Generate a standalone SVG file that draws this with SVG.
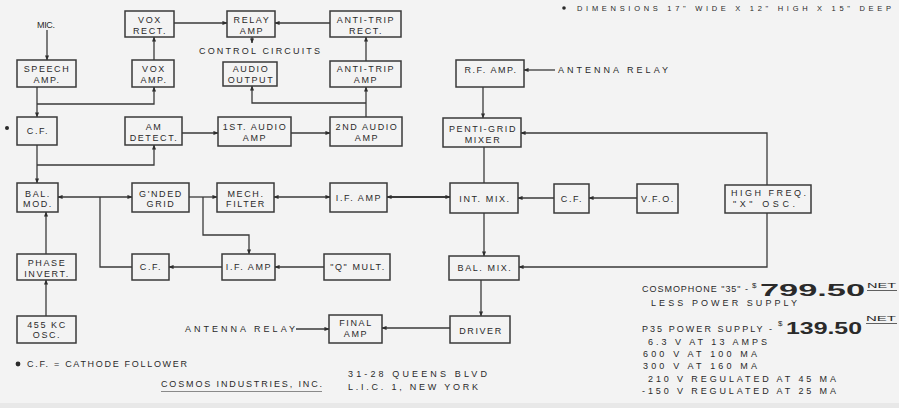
<svg xmlns="http://www.w3.org/2000/svg" width="899" height="408" viewBox="0 0 899 408">
<defs>
<marker id="ah" viewBox="0 0 6 6" refX="5.5" refY="3" markerWidth="5" markerHeight="5" markerUnits="userSpaceOnUse" orient="auto-start-reverse"><path d="M0,0.5 L6,3 L0,5.5 z" fill="#2e2e2e"/></marker>
</defs>
<style>
.bx rect{fill:none;stroke:#3a3a3a;stroke-width:1.5}
.t{font-family:"Liberation Sans",Arial,sans-serif;font-size:9px;letter-spacing:1.6px;fill:#2a2a2a;text-anchor:middle}
.l{font-family:"Liberation Sans",Arial,sans-serif;font-size:9px;fill:#2a2a2a}
.c path{fill:none;stroke:#3a3a3a;stroke-width:1.3}
.c .a{marker-end:url(#ah)}
.c .b{marker-start:url(#ah);marker-end:url(#ah)}
.big{font-family:"Liberation Sans",Arial,sans-serif;font-weight:bold;font-size:17px;fill:#2a2a2a}
.net{font-family:"Liberation Sans",Arial,sans-serif;font-size:7.5px;fill:#2a2a2a}
</style>
<rect width="899" height="408" fill="#f3f3f3"/>
<rect x="0" y="403" width="899" height="5" fill="#e8e8e8"/>

<g class="c" id="connectors">
<path class="a" d="M47,30 V60"/>
<path class="a" d="M37,87 V117"/>
<path class="a" d="M37,104 H154 V87"/>
<path class="a" d="M154,60 V37"/>
<path class="a" d="M174,23 H227"/>
<path class="a" d="M330,23 H275"/>
<path class="a" d="M252,37 V43"/>
<path class="a" d="M366,61 V37"/>
<path class="a" d="M366,117 V87"/>
<path class="a" d="M366,103 H252 V86"/>
<path class="a" d="M37,145 V183"/>
<path class="a" d="M37,165 H154 V145"/>
<path class="a" d="M182,133 H218"/>
<path class="a" d="M291,133 H330"/>
<path class="b" d="M58,197 H132"/>
<path d="M100,197 V267 H132"/>
<path class="a" d="M189,197 H217"/>
<path class="a" d="M203,197 V235 H249 V254"/>
<path class="b" d="M330,197 H274"/>
<path class="b" d="M387,197 H450" style="stroke-width:2"/>
<path d="M484,147 V183"/>
<path class="a" d="M483,87 V118"/>
<path class="a" d="M555,70 H524"/>
<path class="a" d="M767,185 V133 H521"/>
<path class="a" d="M767,213 V267 H519"/>
<path class="a" d="M484,213 V256"/>
<path class="a" d="M554,198 H518"/>
<path class="a" d="M637,198 H589"/>
<path class="a" d="M324,267 H275"/>
<path class="a" d="M222,267 H169"/>
<path class="a" d="M46,254 V212"/>
<path class="a" d="M46,316 V280"/>
<path class="a" d="M481,280 V316"/>
<path class="a" d="M450,328 H382"/>
<path class="a" d="M296,329 H329"/>
</g>

<g class="bx">
<g id="vox-rect"><rect x="125" y="11" width="49" height="26"/><text class="t" x="150" y="23">VOX</text><text class="t" x="150" y="33.5">RECT.</text></g>
<g id="relay-amp"><rect x="227" y="11" width="48" height="26"/><text class="t" x="252" y="23">RELAY</text><text class="t" x="252" y="33.5">AMP</text></g>
<g id="antitrip-rect"><rect x="330" y="11" width="71" height="26"/><text class="t" x="366" y="23">ANTI-TRIP</text><text class="t" x="366" y="33.5">RECT.</text></g>
<g id="speech-amp"><rect x="17" y="60" width="59" height="27"/><text class="t" x="47" y="72">SPEECH</text><text class="t" x="47" y="83">AMP.</text></g>
<g id="vox-amp"><rect x="132" y="60" width="42" height="27"/><text class="t" x="154" y="72">VOX</text><text class="t" x="154" y="83">AMP.</text></g>
<g id="audio-output"><rect x="223" y="62" width="54" height="24"/><text class="t" x="251" y="71.5">AUDIO</text><text class="t" x="251" y="82.5">OUTPUT</text></g>
<g id="antitrip-amp"><rect x="330" y="61" width="71" height="26"/><text class="t" x="366" y="71.5">ANTI-TRIP</text><text class="t" x="366" y="82.5">AMP</text></g>
<g id="rf-amp"><rect x="456" y="60" width="68" height="27"/><text class="t" x="491" y="73">R.F. AMP.</text></g>
<g id="cf1"><rect x="17" y="117" width="40" height="28"/><text class="t" x="38" y="134">C.F.</text></g>
<g id="am-detect"><rect x="125" y="117" width="57" height="28"/><text class="t" x="154" y="130">AM</text><text class="t" x="154" y="140.5">DETECT.</text></g>
<g id="audio1"><rect x="218" y="117" width="73" height="29"/><text class="t" x="255" y="130">1ST. AUDIO</text><text class="t" x="255" y="141">AMP</text></g>
<g id="audio2"><rect x="330" y="117" width="72" height="29"/><text class="t" x="367" y="130">2ND AUDIO</text><text class="t" x="367" y="141">AMP</text></g>
<g id="pentigrid"><rect x="443" y="118" width="78" height="29"/><text class="t" x="483" y="131.5">PENTI-GRID</text><text class="t" x="483" y="142.5">MIXER</text></g>
<g id="bal-mod"><rect x="17" y="183" width="41" height="29"/><text class="t" x="38" y="196.5">BAL.</text><text class="t" x="38" y="207">MOD.</text></g>
<g id="gnded-grid"><rect x="132" y="183" width="57" height="29"/><text class="t" x="161" y="196.5">G'NDED</text><text class="t" x="161" y="207">GRID</text></g>
<g id="mech-filter"><rect x="217" y="183" width="57" height="29"/><text class="t" x="246" y="196.5">MECH.</text><text class="t" x="246" y="207">FILTER</text></g>
<g id="if-amp1"><rect x="330" y="183" width="57" height="29"/><text class="t" x="359" y="201">I.F.  AMP</text></g>
<g id="int-mix"><rect x="450" y="183" width="68" height="30"/><text class="t" x="485" y="202">INT. MIX.</text></g>
<g id="cf2"><rect x="554" y="184" width="35" height="29"/><text class="t" x="572" y="202">C.F.</text></g>
<g id="vfo"><rect x="637" y="184" width="41" height="29"/><text class="t" x="658" y="202">V.F.O.</text></g>
<g id="hf-osc"><rect x="725" y="185" width="86" height="28"/><text class="l" x="731" y="196" textLength="75">HIGH FREQ.</text><text class="l" x="733" y="207" textLength="62">"X" OSC.</text></g>
<g id="cf3"><rect x="132" y="254" width="37" height="26"/><text class="t" x="151" y="270">C.F.</text></g>
<g id="if-amp2"><rect x="222" y="254" width="53" height="26"/><text class="t" x="249" y="270">I.F. AMP</text></g>
<g id="q-mult"><rect x="324" y="254" width="66" height="26"/><text class="t" x="358" y="270">"Q" MULT.</text></g>
<g id="bal-mix"><rect x="449" y="256" width="70" height="24"/><text class="t" x="485" y="271">BAL. MIX.</text></g>
<g id="phase-invert"><rect x="17" y="254" width="59" height="26"/><text class="t" x="47" y="266">PHASE</text><text class="t" x="47" y="276.5">INVERT.</text></g>
<g id="osc455"><rect x="17" y="316" width="59" height="27"/><text class="t" x="47" y="327.5">455 KC</text><text class="t" x="47" y="338">OSC.</text></g>
<g id="final-amp"><rect x="329" y="315" width="53" height="28"/><text class="t" x="356" y="326">FINAL</text><text class="t" x="356" y="337">AMP</text></g>
<g id="driver"><rect x="450" y="316" width="60" height="27"/><text class="t" x="481" y="334">DRIVER</text></g>
</g>

<g id="labels">
<text class="l" x="37" y="28" textLength="18">MIC.</text>
<circle cx="7" cy="128" r="2" fill="#2a2a2a"/>
<text class="l" x="199" y="54" textLength="121">CONTROL CIRCUITS</text>
<text class="l" x="558" y="73" textLength="110">ANTENNA RELAY</text>
<text class="l" x="185" y="332" textLength="110">ANTENNA RELAY</text>
<circle cx="564" cy="8" r="1.8" fill="#2a2a2a"/>
<text class="l" x="577" y="10.5" style="font-size:7.5px" textLength="314">DIMENSIONS 17" WIDE X 12" HIGH X 15" DEEP</text>
<circle cx="18" cy="364" r="2.4" fill="#2a2a2a"/>
<text class="l" x="27" y="367" textLength="160">C.F. = CATHODE FOLLOWER</text>
<text class="l" x="161" y="387" textLength="161">COSMOS INDUSTRIES, INC.</text>
<path d="M161,391.5 H322" stroke="#8a8a8a" stroke-width="1" fill="none"/>
<text class="l" x="348" y="377" textLength="139">31-28 QUEENS BLVD</text>
<text class="l" x="348" y="390" textLength="130">L.I.C. 1, NEW YORK</text>
<text class="l" x="642" y="292" textLength="106">COSMOPHONE "35" -</text>
<text class="l" x="752" y="288" style="font-size:8px">$</text>
<text class="big" x="760" y="296" textLength="105" lengthAdjust="spacingAndGlyphs">799.50</text>
<text class="net" x="867" y="288" textLength="29" lengthAdjust="spacingAndGlyphs">NET</text>
<path d="M867,290.5 H897" stroke="#3a3a3a" stroke-width="0.8"/>
<text class="l" x="651" y="306" textLength="146">LESS POWER SUPPLY</text>
<text class="l" x="642" y="332" textLength="130">P35 POWER SUPPLY -</text>
<text class="l" x="778" y="326" style="font-size:8px">$</text>
<text class="big" x="786" y="334" textLength="76" lengthAdjust="spacingAndGlyphs">139.50</text>
<text class="net" x="866" y="321" textLength="30" lengthAdjust="spacingAndGlyphs">NET</text>
<path d="M866,323.5 H897" stroke="#3a3a3a" stroke-width="0.8"/>
<text class="l" x="648" y="345" textLength="119">6.3 V AT 13 AMPS</text>
<text class="l" x="643" y="357" textLength="114">600 V AT 100 MA</text>
<text class="l" x="643" y="369" textLength="114">300 V AT 160 MA</text>
<text class="l" x="648" y="382" textLength="188">210 V REGULATED AT 45 MA</text>
<text class="l" x="642" y="394" textLength="194">-150 V REGULATED AT 25 MA</text>
</g>
</svg>
